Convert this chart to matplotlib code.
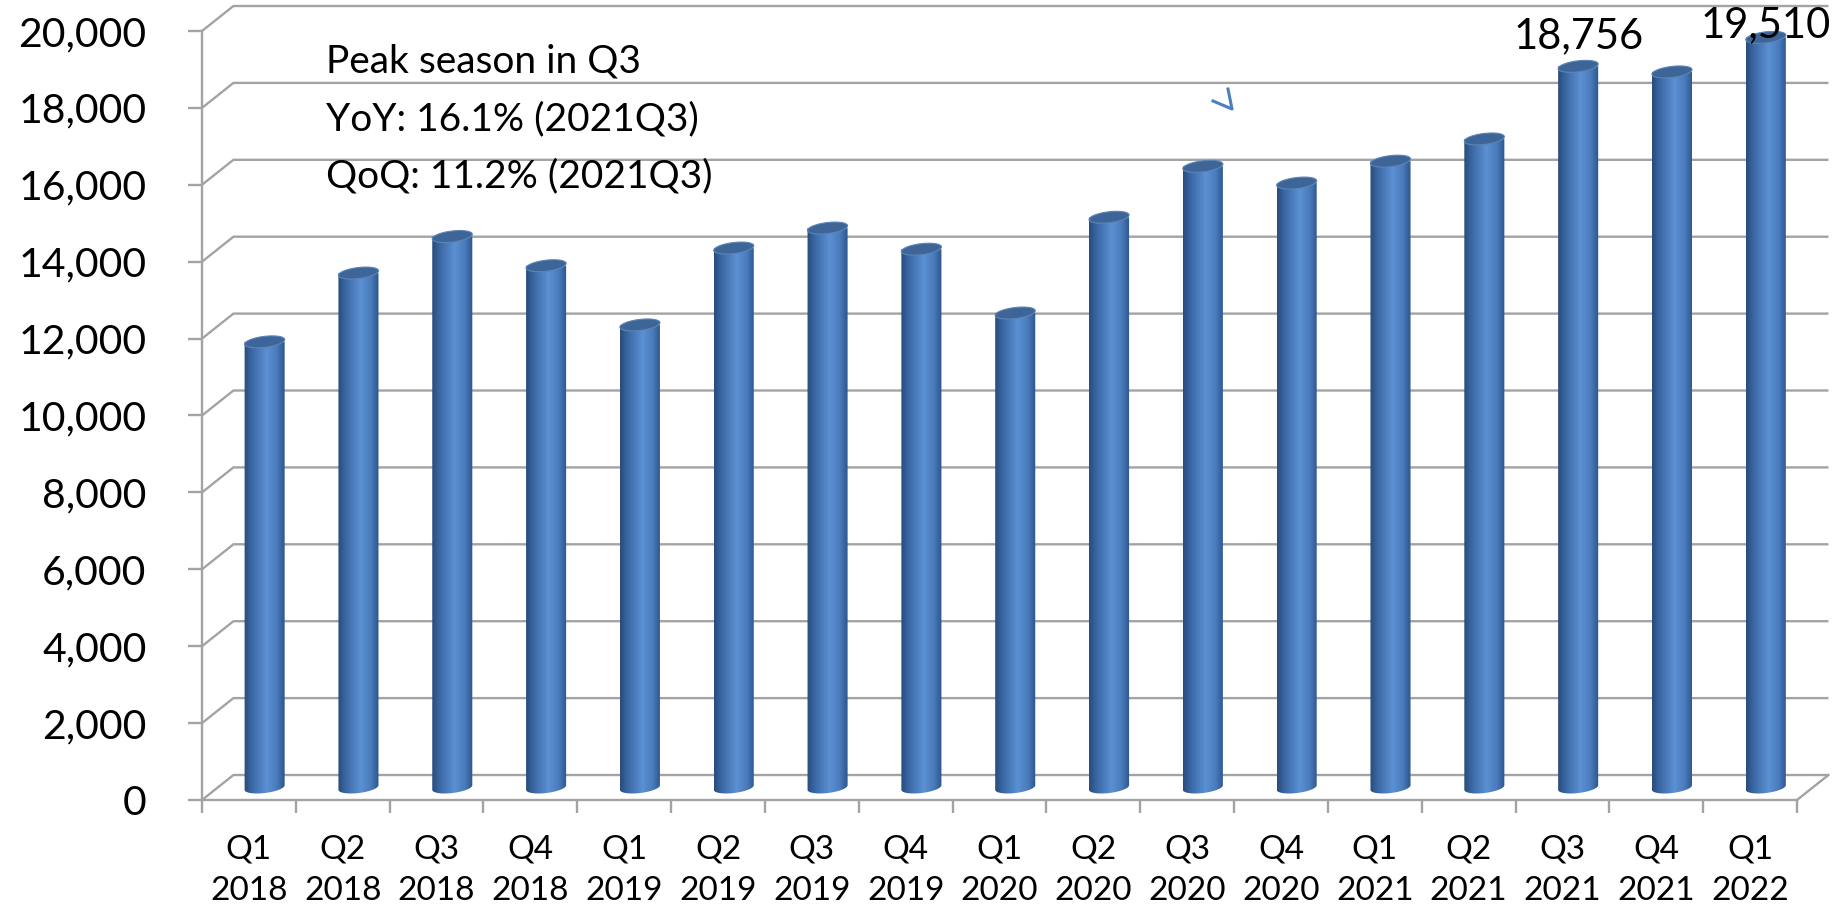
import numpy as np
import matplotlib
matplotlib.use("Agg")
import matplotlib.pyplot as plt
from matplotlib.path import Path
from matplotlib.patches import PathPatch, Polygon
from matplotlib.lines import Line2D
from matplotlib.colors import to_rgb

plt.rcParams['font.family'] = ['Lato', 'DejaVu Sans']

# data
quarters = ['Q1', 'Q2', 'Q3', 'Q4', 'Q1', 'Q2', 'Q3', 'Q4', 'Q1', 'Q2', 'Q3', 'Q4',
            'Q1', 'Q2', 'Q3', 'Q4', 'Q1']
years = ['2018', '2018', '2018', '2018', '2019', '2019', '2019', '2019',
         '2020', '2020', '2020', '2020', '2021', '2021', '2021', '2021', '2022']
values = [11590, 13380, 14330, 13570, 12030, 14030, 14550, 14000,
          12340, 14830, 16155, 15720, 16290, 16867, 18756, 18610, 19510]
labelled = ['Q3 2021', 'Q1 2022']
note_lines = ['Peak season in Q3', 'YoY: 16.1% (2021Q3)', 'QoQ: 11.2% (2021Q3)']
y_ticks = list(range(0, 20001, 2000))

# style
GRID = '#a3a3a3'
DEPTH_X = 0.335   # category units
DEPTH_Y = 650     # value units
BAR_W = 0.43
CAP_H_PX = 11
TILT = 7
label_lift = {'Q3 2021': 8, 'Q1 2022': -5}   # points

fig = plt.figure(figsize=(18.46, 9.07), dpi=100)
fig.patch.set_facecolor('white')
ax = fig.add_axes([202 / 1846, 107 / 907, 1595 / 1846, 769 / 907])
n = len(values)
ax.set_xlim(-0.5, n - 0.5)
ax.set_ylim(0, 20000)

p0 = ax.transData.transform((0, 0))
p1 = ax.transData.transform((1, 1))
px_x, px_y = p1[0] - p0[0], p1[1] - p0[1]

# back wall gridlines + diagonals to the front axis
for v in y_ticks:
    ax.plot([-0.5, -0.5 + DEPTH_X, n - 0.5 + DEPTH_X], [v, v + DEPTH_Y, v + DEPTH_Y],
            color=GRID, lw=1.7, clip_on=False, zorder=1, solid_capstyle='butt')
# floor right edge
ax.plot([n - 0.5, n - 0.5 + DEPTH_X], [0, DEPTH_Y], color=GRID, lw=1.7,
        clip_on=False, zorder=1)

# cylinder gradient
stops = [(0.0, '#294c7c'), (0.18, '#3a67a3'), (0.55, '#5b90d3'),
         (0.8, '#4b7cbd'), (1.0, '#2d568c')]
xs = np.linspace(0, 1, 64)
grad = np.array([[np.interp(t, [s[0] for s in stops],
                            [to_rgb(s[1])[k] for s in stops]) for k in range(3)]
                 for t in xs])[np.newaxis, :, :]


def ellipse(cx, cy, t):
    a = BAR_W * px_x / 2
    b = CAP_H_PX / 2
    th = np.deg2rad(TILT)
    dx = a * np.cos(t) * np.cos(th) - b * np.sin(t) * np.sin(th)
    dy = a * np.cos(t) * np.sin(th) + b * np.sin(t) * np.cos(th)
    return np.column_stack([cx + dx / px_x, cy + dy / px_y])


for i, v in enumerate(values):
    cx = i + DEPTH_X / 2
    base = DEPTH_Y / 2
    top = v + base
    low = ellipse(cx, base, np.linspace(np.pi, 2 * np.pi, 40))
    verts = np.vstack([[low[0, 0], top], low, [low[-1, 0], top], [low[0, 0], top]])
    codes = [Path.MOVETO] + [Path.LINETO] * (len(verts) - 2) + [Path.CLOSEPOLY]
    body = PathPatch(Path(verts, codes), facecolor='none', edgecolor='none')
    ax.add_patch(body)
    img = ax.imshow(grad, extent=[cx - BAR_W / 2, cx + BAR_W / 2, 0, top],
                    aspect='auto', interpolation='bilinear', zorder=3)
    img.set_clip_path(body)
    cap = Polygon(ellipse(cx, top, np.linspace(0, 2 * np.pi, 80)), closed=True,
                  facecolor='#3d6598', edgecolor='#5b84b8', lw=0.8, zorder=4)
    ax.add_patch(cap)
    key = quarters[i] + ' ' + years[i]
    if key in labelled:
        ax.annotate(f'{v:,}', (cx, top), xytext=(0, label_lift[key]),
                    textcoords='offset points', ha='center', va='bottom',
                    fontsize=30, zorder=5, annotation_clip=False)

ax.set_xlim(-0.5, n - 0.5)
ax.set_ylim(0, 20000)

# axes styling
for s in ['top', 'right']:
    ax.spines[s].set_visible(False)
for s in ['left', 'bottom']:
    ax.spines[s].set_color(GRID)
    ax.spines[s].set_linewidth(1.7)
ax.set_yticks(y_ticks)
ax.set_yticklabels([f'{v:,}' for v in y_ticks])
ax.tick_params(axis='y', length=10, width=1.7, color=GRID, pad=30, labelsize=29.5)
ax.set_xticks(range(n))
ax.set_xticklabels([f'{q}\n{y}' for q, y in zip(quarters, years)], linespacing=1.45)
ax.set_xticks(np.arange(-0.5, n, 1), minor=True)
ax.tick_params(axis='x', which='major', length=0, pad=25, labelsize=24)
ax.tick_params(axis='x', which='minor', length=9, width=1.7, color=GRID)

# note text in the upper left
for k, line in enumerate(note_lines):
    ax.text(0.078, 1 - (42 + 57 * k) / 769, line, transform=ax.transAxes,
            fontsize=28, ha='left', va='baseline')

# small stray blue stroke
fig.add_artist(Line2D([1213 / 1846, 1232 / 1846, 1228 / 1846],
                      [1 - 101 / 907, 1 - 109 / 907, 1 - 89 / 907],
                      color='#4a7fc0', lw=2.2, transform=fig.transFigure))

fig.savefig('out.png', dpi=100, facecolor='white')
